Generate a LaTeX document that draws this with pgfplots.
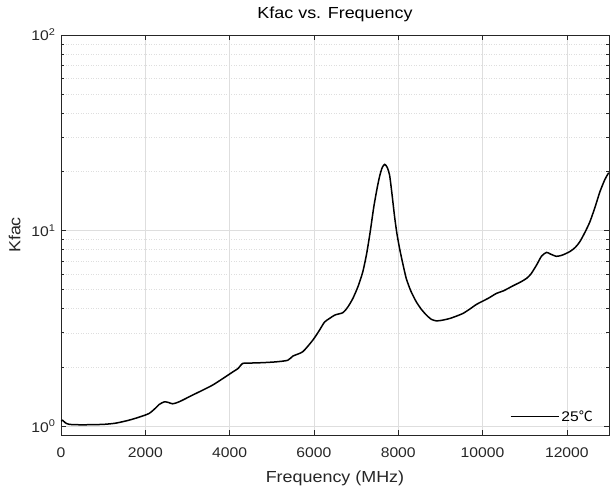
\documentclass[border=0pt]{standalone}
\usepackage{pgfplots}
\pgfplotsset{compat=1.18}
\usepackage{fontspec}
\setmainfont{Liberation Sans}[FakeStretch=1.12]
\newfontfamily\cjk{Noto Sans CJK SC}
\definecolor{axgray}{gray}{0.15}
\definecolor{gridgray}{gray}{0.87}
\begin{document}
\begin{tikzpicture}
\begin{axis}[
  scale only axis,
  width=548pt, height=400pt,
  ymode=log, log basis y=10,
  xmin=0, xmax=13000, ymin=0.9, ymax=100,
  scaled x ticks=false,
  xtick={0,2000,4000,6000,8000,10000,12000},
  xticklabels={0,2000,4000,6000,8000,10000,12000},
  ytick={1,10,100},
  yticklabels={10\textsuperscript{0},10\textsuperscript{1},10\textsuperscript{2}},
  minor ytick={2,3,4,5,6,7,8,9,20,30,40,50,60,70,80,90},
  tick align=inside,
  major tick length=5pt, minor tick length=3pt,
  axis line style={axgray, line width=0.6pt},
  every tick/.style={axgray, line width=0.6pt},
  tick label style={font=\fontsize{14}{16}\selectfont, text=axgray},
  xticklabel style={yshift=-9pt},
  yticklabel style={xshift=-2pt},
  label style={font=\fontsize{16}{18}\selectfont, text=axgray},
  title style={font=\fontsize{16}{18}\selectfont, text=black, yshift=4pt},
  title={Kfac vs. Frequency},
  xlabel={Frequency (MHz)},
  ylabel={Kfac},
  xlabel style={yshift=-7pt},
  ylabel style={yshift=4pt},
  grid=both,
  major grid style={gridgray, line width=0.5pt},
  minor grid style={gridgray, line width=0.5pt, dotted},
  legend style={draw=none, fill=none, at={(0.98,0.02)}, anchor=south east, font=\fontsize{14}{16}\selectfont},
  legend cell align=left,
  legend image code/.code={\draw[#1] (0pt,0pt) -- (48pt,0pt);},
]
\addplot[black, line width=1.5pt, smooth, tension=0.4] coordinates {
(0,1.06) (40,1.07) (100,1.04) (200,1.02) (500,1.015) (1000,1.02) (1300,1.035)
(1600,1.07) (1850,1.11) (2090,1.16) (2250,1.24) (2330,1.29) (2450,1.33)
(2550,1.32) (2650,1.30) (2800,1.33) (3121,1.44) (3596,1.62) (4072,1.89)
(4200,1.97) (4310,2.09) (4500,2.10) (4786,2.11) (5100,2.13) (5380,2.17)
(5500,2.28) (5735,2.40) (5973,2.75) (6131,3.09) (6250,3.40) (6369,3.55)
(6500,3.70) (6686,3.80) (6800,4.05) (6923,4.49) (7050,5.2) (7160,6.16)
(7250,7.6) (7336,9.88) (7420,13.2) (7500,16.5) (7560,19.0) (7620,21.0)
(7680,21.8) (7740,21.0) (7795,19.2) (7850,15.5) (7913,11.8) (7970,9.6)
(8032,8.1) (8100,6.9) (8190,5.69) (8300,4.9) (8428,4.32) (8550,3.95)
(8666,3.70) (8780,3.52) (8904,3.45) (9050,3.48) (9221,3.55) (9380,3.65)
(9538,3.77) (9700,3.97) (9855,4.19) (10000,4.35) (10150,4.52) (10330,4.77)
(10500,4.92) (10726,5.22) (10900,5.45) (11043,5.69) (11150,6.0) (11281,6.66)
(11400,7.4) (11518,7.73) (11600,7.6) (11756,7.38) (11900,7.5) (12073,7.81)
(12200,8.2) (12310,8.78) (12430,9.8) (12548,11.1) (12670,13.2) (12785,15.8)
(12900,18.2) (12983,19.6) (13000,19.7)
};
\addlegendentry{25{\cjk ℃}}
\end{axis}
\pgfresetboundingbox
\path[use as bounding box] ([shift={(-61pt,-50pt)}]current axis.south west) rectangle ([shift={(3pt,35pt)}]current axis.north east);
\end{tikzpicture}
\end{document}
